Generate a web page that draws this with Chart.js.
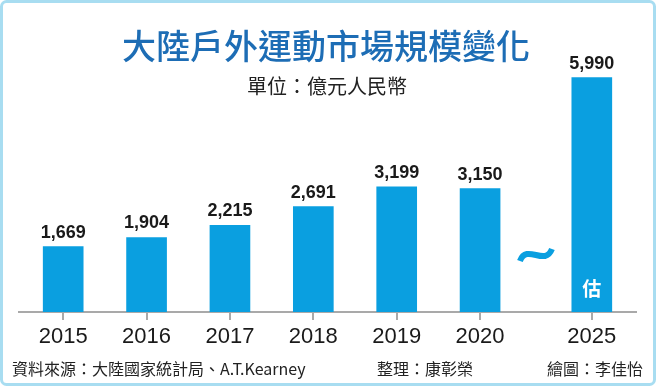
<!DOCTYPE html>
<html>
<head>
<meta charset="utf-8">
<script src="https://cdn.jsdelivr.net/npm/chart.js@4.4.1/dist/chart.umd.min.js"></script>
<style>
  html, body { margin: 0; padding: 0; background: #fff; }
  #wrap { width: 656px; height: 386px; position: relative; }
</style>
</head>
<body>
<div id="wrap"><canvas id="marketChart" width="656" height="386"></canvas></div>
<script>
'use strict';

// data
var years = ['2015', '2016', '2017', '2018', '2019', '2020', '2025'];
var values = [1669, 1904, 2215, 2691, 3199, 3150, 5990];
var estimated = [false, false, false, false, false, false, true];

var titleText = '大陸戶外運動市場規模變化';
var unitText = '單位：億元人民幣';
var sourceText = '資料來源：大陸國家統計局、A.T.Kearney';
var editorText = '整理：康彰榮';
var artistText = '繪圖：李佳怡';

// Colors
var barBlue = '#0a9fe0';
var titleBlue = '#1d6db5';
var frameBlue = '#a8ddf1';
var axisGrey = '#a9a9a9';
var CJK = '"Noto Sans CJK TC", "Noto Sans CJK SC", sans-serif';

// the break before 2025 is wider than one slot
var gapAfter = 5;
var gapWidth = 1.34;
function xOf(i) {
    return i > gapAfter ? i - 1 + gapWidth : i;
}
var xTicks = years.map(function (y, i) { return xOf(i); });

// ------------------------------------------------------- //
// Frame, titles, footer, break mark, value labels
// ------------------------------------------------------ //
var decorPlugin = {
    id: 'decor',
    beforeDraw: function (chart) {
        var ctx = chart.ctx;
        ctx.save();
        ctx.fillStyle = '#fff';
        ctx.fillRect(0, 0, chart.width, chart.height);
        ctx.strokeStyle = frameBlue;
        ctx.lineWidth = 3;
        ctx.beginPath();
        ctx.roundRect(1.5, 1.5, chart.width - 3, chart.height - 3, 5);
        ctx.stroke();

        ctx.textAlign = 'center';
        ctx.textBaseline = 'middle';
        ctx.fillStyle = titleBlue;
        ctx.font = '500 34px ' + CJK;
        ctx.fillText(titleText, 326, 46);
        ctx.fillStyle = '#222';
        ctx.font = '20px ' + CJK;
        ctx.fillText(unitText, 327, 86);

        ctx.font = '16px ' + CJK;
        ctx.textAlign = 'left';
        ctx.fillText(sourceText, 12, 369);
        ctx.fillText(editorText, 377, 369);
        ctx.textAlign = 'right';
        ctx.fillText(artistText, 643, 369);
        ctx.restore();
    },
    afterDatasetsDraw: function (chart) {
        var ctx = chart.ctx;
        var xs = chart.scales.x;
        var ys = chart.scales.y;
        var bars = chart.getDatasetMeta(0).data;
        ctx.save();
        ctx.textAlign = 'center';
        ctx.textBaseline = 'alphabetic';
        ctx.fillStyle = '#1a1a1a';
        ctx.font = 'bold 18px "Liberation Sans", Arial, sans-serif';
        bars.forEach(function (bar, i) {
            ctx.fillText(values[i].toLocaleString('en-US'), bar.x, bar.y - 9);
            if (estimated[i]) {
                ctx.save();
                ctx.fillStyle = '#fff';
                ctx.font = 'bold 19px ' + CJK;
                ctx.textBaseline = 'middle';
                ctx.fillText('估', bar.x, ys.bottom - 23);
                ctx.restore();
            }
        });

        // break mark between 2020 and 2025
        var cx = (xs.getPixelForValue(xOf(gapAfter)) + xs.getPixelForValue(xOf(gapAfter + 1))) / 2;
        var cy = ys.bottom - 57;
        ctx.strokeStyle = barBlue;
        ctx.lineWidth = 6;
        ctx.lineCap = 'butt';
        ctx.beginPath();
        ctx.moveTo(cx - 16, cy + 6);
        ctx.bezierCurveTo(cx - 9, cy - 12, cx + 9, cy + 12, cx + 16, cy - 6);
        ctx.stroke();
        ctx.restore();
    }
};

var ctxEl = document.getElementById('marketChart');
var marketChart = new Chart(ctxEl, {
    type: 'bar',
    data: {
        datasets: [
            {
                data: years.map(function (y, i) { return { x: xOf(i), y: values[i] }; }),
                backgroundColor: barBlue,
                borderWidth: 0,
                barThickness: 40
            }
        ]
    },
    options: {
        responsive: false,
        animation: false,
        layout: {
            padding: { top: 38, left: 19, right: 20, bottom: 0 }
        },
        plugins: {
            legend: { display: false },
            tooltip: { enabled: false }
        },
        scales: {
            x: {
                type: 'linear',
                offset: false,
                min: -0.53,
                max: 6.87,
                afterBuildTicks: function (scale) {
                    scale.ticks = xTicks.map(function (v) { return { value: v }; });
                },
                afterFit: function (scale) {
                    scale.height = 74;
                },
                grid: {
                    offset: false,
                    drawOnChartArea: false,
                    color: axisGrey,
                    lineWidth: 2,
                    tickLength: 8
                },
                border: { color: axisGrey, width: 2 },
                ticks: {
                    autoSkip: false,
                    maxRotation: 0,
                    padding: 4,
                    color: '#1a1a1a',
                    font: { family: '"Liberation Sans", Arial, sans-serif', size: 22 },
                    callback: function (value, index) { return years[index]; }
                }
            },
            y: {
                display: false,
                min: 0,
                max: 7000
            }
        }
    },
    plugins: [decorPlugin]
});
</script>
</body>
</html>
